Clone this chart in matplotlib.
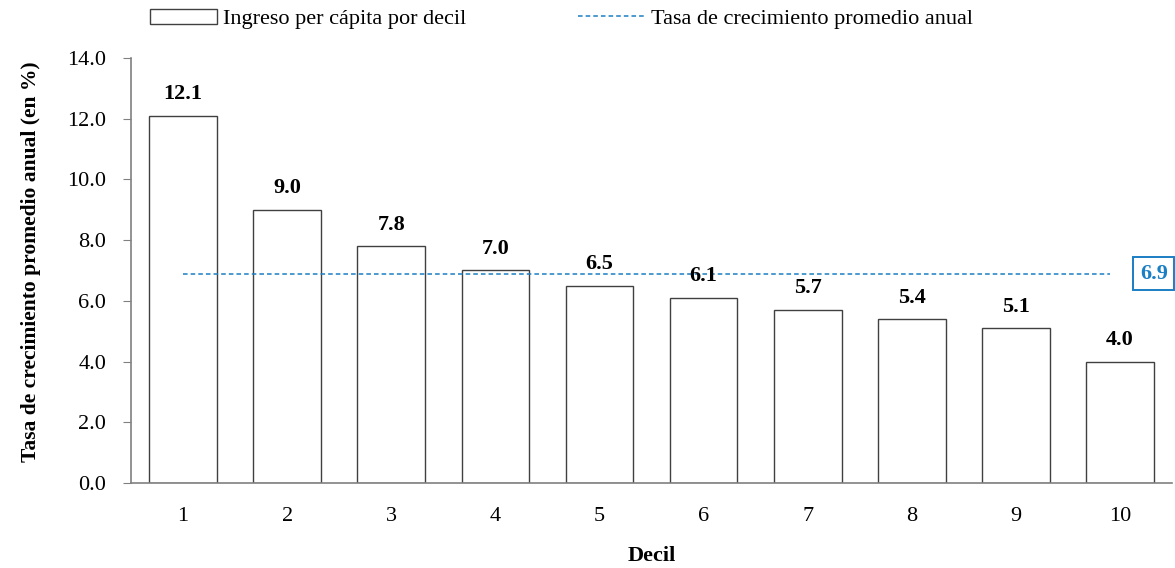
import numpy as np
import matplotlib.pyplot as plt
from matplotlib.patches import Patch
from matplotlib.lines import Line2D

# data
deciles = [1, 2, 3, 4, 5, 6, 7, 8, 9, 10]
growth = [12.1, 9.0, 7.8, 7.0, 6.5, 6.1, 5.7, 5.4, 5.1, 4.0]
avg_growth = 6.9

plt.rcParams['font.family'] = ['Liberation Serif', 'DejaVu Serif']

fig = plt.figure(figsize=(11.75, 5.68), dpi=100)
ax = fig.add_axes([0.1115, 0.1496, 0.886, 0.7484])

x = np.arange(len(deciles)) + 1
ax.bar(x, growth, width=0.65, facecolor='white', edgecolor='#404040', linewidth=1.0)

for xi, v in zip(x, growth):
    ax.text(xi, v + 0.38, f"{v:.1f}", ha='center', va='bottom',
            fontsize=16, fontweight='bold')

ax.plot([x[0], x[-1] - 0.1], [avg_growth, avg_growth], linestyle=(0, (3, 2)),
        color='#1a7fc4', linewidth=1.1)
ax.text(x[-1] + 0.19, avg_growth, f"{avg_growth:.1f}", ha='left', va='center',
        fontsize=16, fontweight='bold', color='#1a7fc4', clip_on=False,
        bbox=dict(boxstyle='square,pad=0.3', facecolor='white',
                  edgecolor='#1a7fc4', linewidth=1.4))

ax.set_xlim(0.5, 10.5)
ax.set_ylim(0, 14)
ax.set_yticks(np.arange(0, 14.1, 2))
ax.set_yticklabels([f"{t:.1f}" for t in np.arange(0, 14.1, 2)])
ax.set_xticks(x)
ax.set_xticklabels([str(d) for d in deciles])
ax.tick_params(axis='y', labelsize=16, length=6, color='#808080', pad=12)
ax.tick_params(axis='x', labelsize=16, length=0, pad=17)

for s in ['top', 'right']:
    ax.spines[s].set_visible(False)
for s in ['left', 'bottom']:
    ax.spines[s].set_color('#808080')
    ax.spines[s].set_linewidth(1.2)

ax.set_ylabel("Tasa de crecimiento promedio anual (en %)", fontsize=15.5,
              fontweight='bold')
ax.yaxis.set_label_coords(-0.086, 0.52)
ax.set_xlabel("Decil", fontsize=16, fontweight='bold', labelpad=15)

handles = [Patch(facecolor='white', edgecolor='#404040', linewidth=1.0),
           Line2D([0], [0], color='#1a7fc4', linestyle=(0, (3, 2)), linewidth=1.1)]
fig.legend(handles, ["Ingreso per cápita por decil", "Tasa de crecimiento promedio anual"],
           loc='upper left', bbox_to_anchor=(150 / 1175, 0.985), ncol=2, frameon=False,
           fontsize=16, handlelength=3.0, handletextpad=0.3, columnspacing=5.0,
           borderpad=0, borderaxespad=0)

fig.savefig("out.png", dpi=100)
